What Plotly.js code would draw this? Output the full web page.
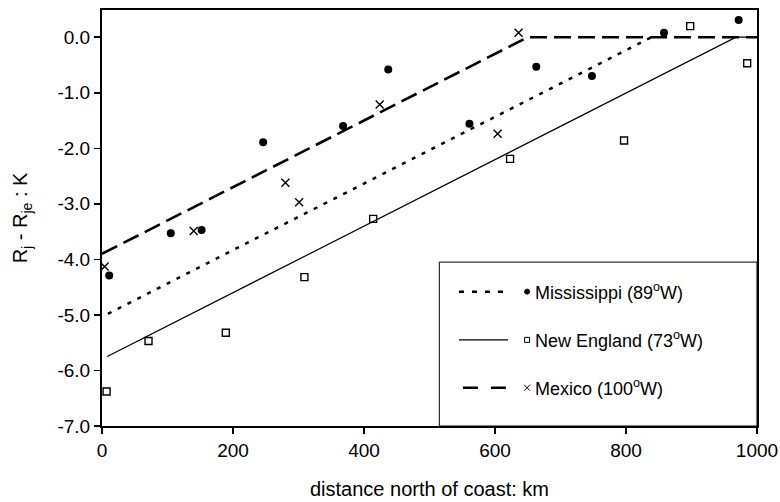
<!DOCTYPE html>
<html><head><meta charset="utf-8">
<script src="https://cdn.plot.ly/plotly-3.0.1.min.js"></script>
<style>html,body{margin:0;padding:0;background:#fff}#plot{width:780px;height:502px}</style>
</head><body><div id="plot"></div>
<script>
// Observed data
const missX = [11, 105, 152, 246, 368, 437, 561, 663, 748, 858, 972];
const missY = [-4.29, -3.53, -3.47, -1.89, -1.60, -0.58, -1.56, -0.53, -0.70, 0.08, 0.31];
const neX = [7, 71, 189, 309, 414, 623, 797, 898, 985];
const neY = [-6.38, -5.47, -5.32, -4.32, -3.27, -2.19, -1.86, 0.20, -0.47];
const mexX = [4, 140, 280, 301, 424, 604, 636];
const mexY = [-4.13, -3.49, -2.62, -2.97, -1.21, -1.74, 0.08];
// Fitted lines
const missLineX = [9, 839];
const missLineY = [-4.98, 0];
const neLineX = [8, 968, 1000];
const neLineY = [-5.75, 0, 0];
const mexLineX = [0, 650, 1000];
const mexLineY = [-3.9, 0, 0];
// Labels
const seriesNames = ['Mississippi (89<sup>o</sup>W)', 'New England (73<sup>o</sup>W)', 'Mexico (100<sup>o</sup>W)'];
const xTicks = [0, 200, 400, 600, 800, 1000];
const yTicks = [0, -1, -2, -3, -4, -5, -6, -7];
const yTickText = ['0.0', '-1.0', '-2.0', '-3.0', '-4.0', '-5.0', '-6.0', '-7.0'];

const F = 'Liberation Sans, Arial, sans-serif';
const traces = [
  {x: neLineX, y: neLineY, mode: 'lines', line: {color: '#000', width: 1.2}, hoverinfo: 'skip'},
  {x: missLineX, y: missLineY, mode: 'lines', line: {color: '#000', width: 2.5, dash: '4px,7px'}, hoverinfo: 'skip'},
  {x: mexLineX, y: mexLineY, mode: 'lines', line: {color: '#000', width: 2.6, dash: '17px,7px'}, hoverinfo: 'skip'},
  {x: missX, y: missY, mode: 'markers', name: seriesNames[0], marker: {symbol: 'circle', size: 8, color: '#000'}},
  {x: neX, y: neY, mode: 'markers', name: seriesNames[1], marker: {symbol: 'square-open', size: 7, color: '#000', line: {width: 1.4, color: '#000'}}},
  {x: mexX, y: mexY, mode: 'markers', name: seriesNames[2], marker: {symbol: 'x-thin', size: 8, color: '#000', line: {width: 1.4, color: '#000'}}}
];

// legend layout (paper coords)
const rowsY = [0.323, 0.207, 0.092];
const lx0 = 0.545, lx1 = 0.620, mx = 0.649, tx = 0.658;
const shapes = [
  {type: 'rect', xref: 'paper', yref: 'paper', x0: 0.515, x1: 1, y0: 0, y1: 0.394, line: {color: '#000', width: 1}, fillcolor: '#fff', layer: 'above'},
  {type: 'line', xref: 'paper', yref: 'paper', x0: lx0, x1: lx1, y0: rowsY[0], y1: rowsY[0], line: {color: '#000', width: 2.5, dash: '5px,8px'}},
  {type: 'line', xref: 'paper', yref: 'paper', x0: lx0, x1: lx1, y0: rowsY[1], y1: rowsY[1], line: {color: '#000', width: 1.2}},
  {type: 'line', xref: 'paper', yref: 'paper', x0: lx0 + 0.006, x1: lx1, y0: rowsY[2], y1: rowsY[2], line: {color: '#000', width: 2.6, dash: '15px,13px'}},
  {type: 'circle', xref: 'paper', yref: 'paper', xsizemode: 'pixel', ysizemode: 'pixel', xanchor: mx, yanchor: rowsY[0], x0: -2.5, x1: 2.5, y0: -2.5, y1: 2.5, fillcolor: '#000', line: {color: '#000', width: 1}},
  {type: 'rect', xref: 'paper', yref: 'paper', xsizemode: 'pixel', ysizemode: 'pixel', xanchor: mx, yanchor: rowsY[1], x0: -2.5, x1: 2.5, y0: -2.5, y1: 2.5, fillcolor: 'rgba(0,0,0,0)', line: {color: '#000', width: 1}},
  {type: 'line', xref: 'paper', yref: 'paper', xsizemode: 'pixel', ysizemode: 'pixel', xanchor: mx, yanchor: rowsY[2], x0: -3, x1: 3, y0: -3, y1: 3, line: {color: '#000', width: 1}},
  {type: 'line', xref: 'paper', yref: 'paper', xsizemode: 'pixel', ysizemode: 'pixel', xanchor: mx, yanchor: rowsY[2], x0: -3, x1: 3, y0: 3, y1: -3, line: {color: '#000', width: 1}}
];
const annotations = seriesNames.map((n, i) => ({
  xref: 'paper', yref: 'paper', x: tx, y: rowsY[i], xanchor: 'left', yanchor: 'middle',
  text: n, showarrow: false, font: {family: F, size: 18, color: '#000'}
}));

const layout = {
  width: 780, height: 502,
  margin: {l: 101.5, r: 23, t: 10, b: 76},
  paper_bgcolor: '#fff', plot_bgcolor: '#fff',
  showlegend: false,
  font: {family: F, size: 19, color: '#000'},
  xaxis: {
    range: [0, 1000], tickvals: xTicks, ticks: 'outside', ticklen: 6, tickwidth: 1.5, tickcolor: '#000',
    showline: true, linewidth: 2, linecolor: '#000', mirror: true, showgrid: false, zeroline: false,
    tickfont: {family: F, size: 19},
    title: {text: 'distance north of coast: km', font: {family: F, size: 20}, standoff: 22}
  },
  yaxis: {
    range: [-7, 0.49], tickmode: 'array', tickvals: yTicks, ticktext: yTickText,
    ticks: 'outside', ticklen: 6, tickwidth: 1.5, tickcolor: '#000',
    showline: true, linewidth: 2, linecolor: '#000', mirror: true, showgrid: false, zeroline: false,
    tickfont: {family: F, size: 19},
    title: {text: 'R<sub>j</sub> - R<sub>je</sub> : K', font: {family: F, size: 20}, standoff: 24}
  },
  shapes: shapes,
  annotations: annotations
};
Plotly.newPlot('plot', traces, layout, {displayModeBar: false, staticPlot: true});
</script></body></html>
